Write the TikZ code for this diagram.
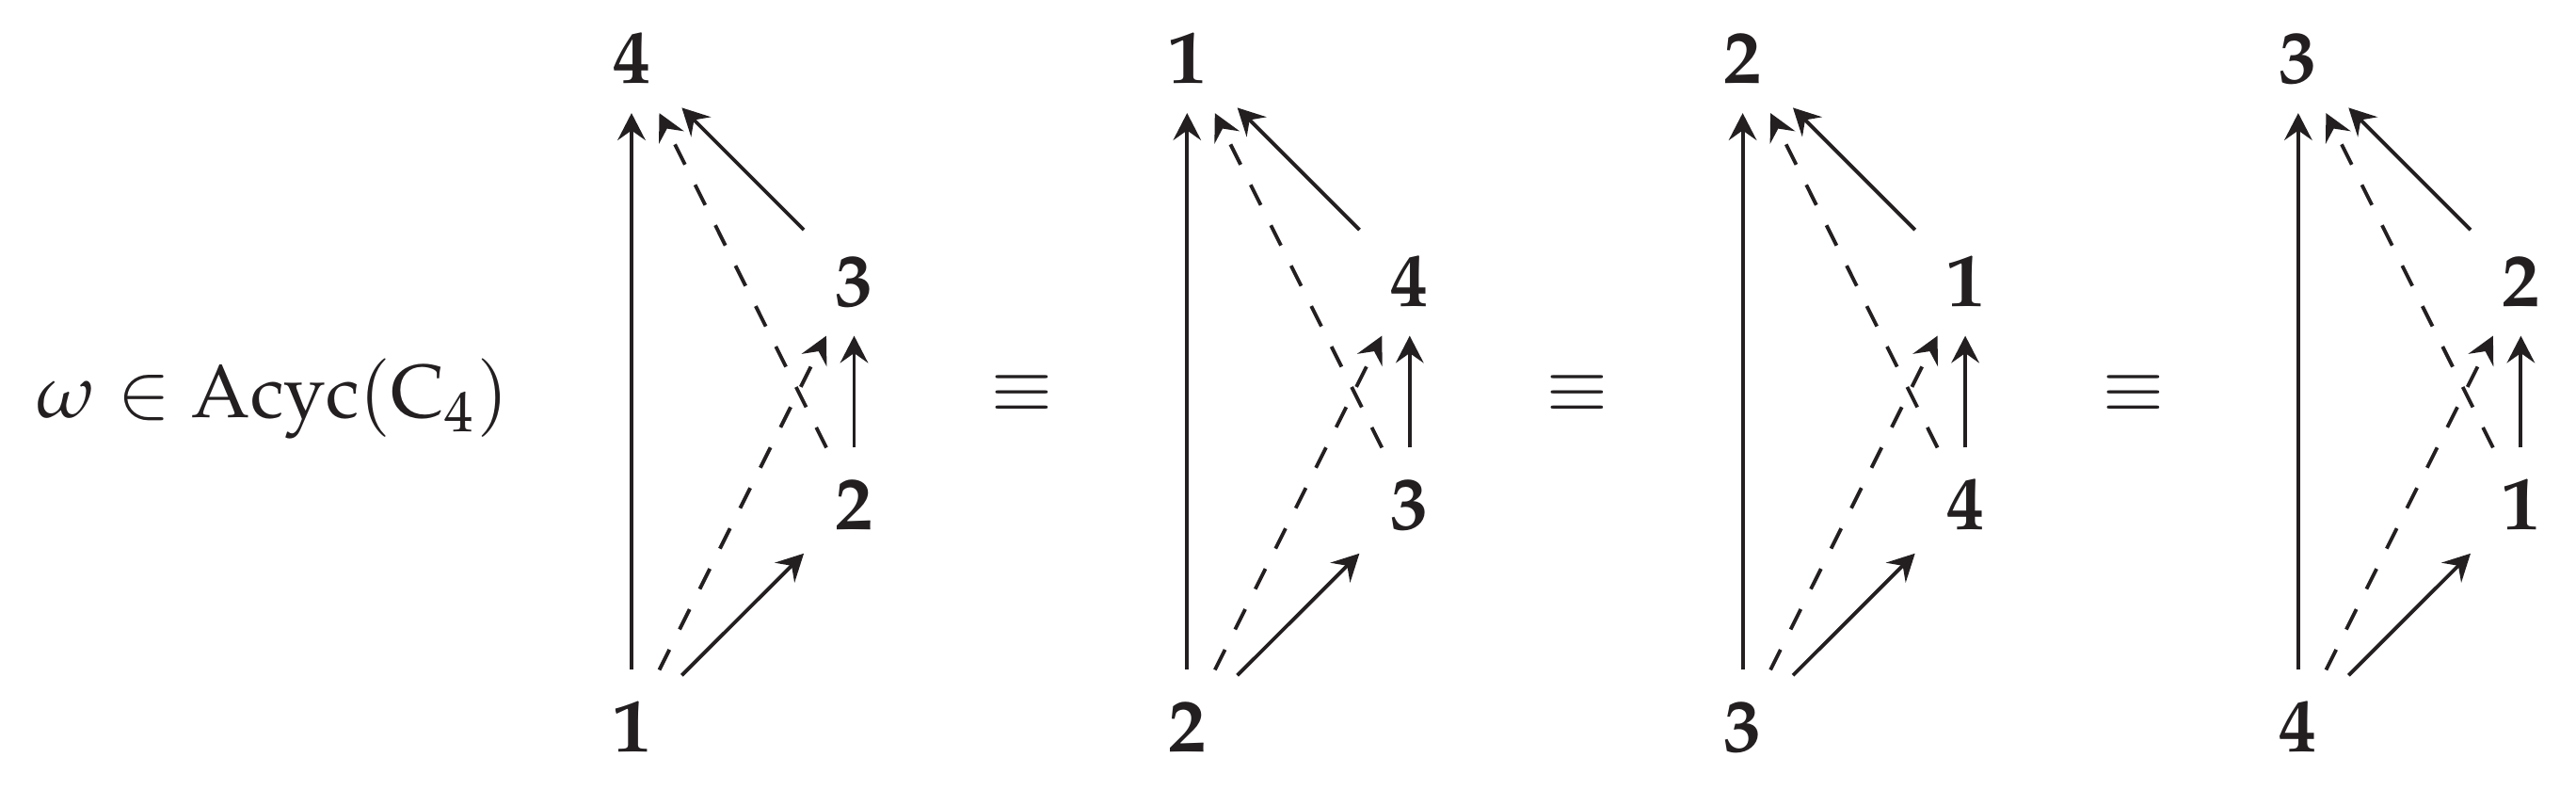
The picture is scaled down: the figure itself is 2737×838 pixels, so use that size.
\documentclass[tikz,border=0pt]{standalone}
\usepackage{mathpazo}
\usetikzlibrary{arrows.meta}
\definecolor{ink}{RGB}{35,31,32}
\begin{document}
\begin{tikzpicture}[x=0.125pt,y=-0.125pt, color=ink,
  vert/.style={inner xsep=3.85pt, inner ysep=3.75pt, text height=6.875pt, text depth=0pt},
  arr/.style={line width=0.48pt, -{Stealth[length=3.6pt, width=3.7pt, inset=1.3pt]}},
  darr/.style={arr, dashed}]
\useasboundingbox (0,0) rectangle (2737,838);
\node[anchor=base] (lbl) at (290,443.6) {$\omega \in \mathrm{Acyc}(\mathrm{C}_4)$};
\foreach \k/\a/\b/\c/\d in {0/4/3/2/1, 1/1/4/3/2, 2/2/1/4/3, 3/3/2/1/4}{
  \pgfmathsetmacro\X{671+590.3*\k}
  \pgfmathsetmacro\XR{\X+236.5}
  \node[vert] (tl\k) at (\X,61) {$\mathbf{\a}$};
  \node[vert] (ur\k) at (\XR,297.5) {$\mathbf{\b}$};
  \node[vert] (lr\k) at (\XR,534.5) {$\mathbf{\c}$};
  \node[vert] (bl\k) at (\X,770.5) {$\mathbf{\d}$};
  \draw[arr] (bl\k) -- (tl\k);
  \draw[arr] (bl\k) -- (lr\k);
  \draw[darr] (bl\k) -- (ur\k);
  \draw[arr] (lr\k) -- (ur\k);
  \draw[darr] (lr\k) -- (tl\k);
  \draw[arr] (ur\k) -- (tl\k);
}
\foreach \k in {0,1,2}{
  \pgfmathsetmacro\E{1086+590.3*\k}
  \node[anchor=base] (eq\k) at (\E,437.6) {$\equiv$};
}
\end{tikzpicture}
\end{document}
